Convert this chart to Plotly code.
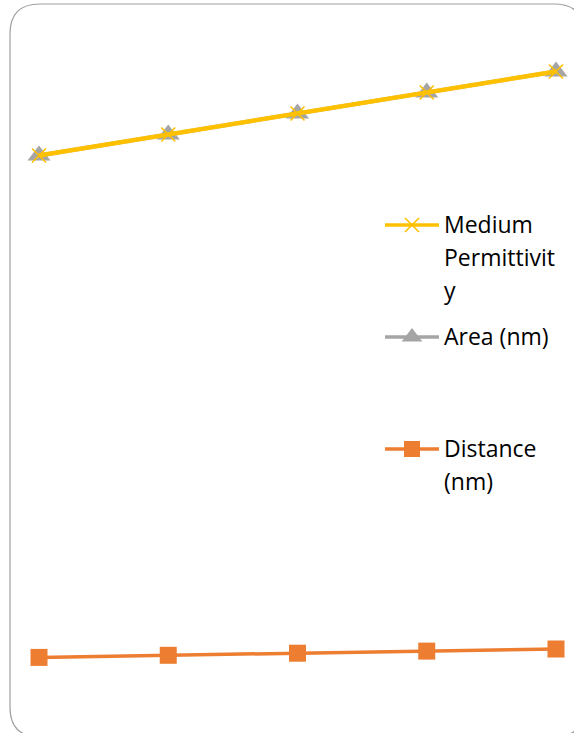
import plotly.graph_objects as go

# Series data
samples = [1, 2, 3, 4, 5]
medium_permittivity = [240, 250, 260, 270, 280]
area_nm = [240, 250, 260, 270, 280]
distance_nm = [1, 2, 3, 4, 5]

series_names = ["Medium Permittivity", "Area (nm)", "Distance (nm)"]

YELLOW = "#FFC000"
GRAY = "#A5A5A5"
ORANGE = "#ED7D31"

W, H = 574, 733

fig = go.Figure()

# Data series (drawn bottom-up so the yellow line sits on top)
fig.add_trace(go.Scatter(
    x=samples, y=distance_nm, name=series_names[2], mode="lines+markers",
    line=dict(color=ORANGE, width=3.5),
    marker=dict(symbol="square", size=17, color=ORANGE, opacity=1),
))
fig.add_trace(go.Scatter(
    x=samples, y=area_nm, name=series_names[1], mode="lines+markers",
    line=dict(color=GRAY, width=4),
    marker=dict(symbol="triangle-up", size=20, color=GRAY, opacity=1),
))
fig.add_trace(go.Scatter(
    x=samples, y=medium_permittivity, name=series_names[0], mode="lines+markers",
    line=dict(color=YELLOW, width=4.5),
    marker=dict(symbol="x-thin", size=14, line=dict(color=YELLOW, width=1.6)),
))

# Hand-placed legend on a pixel-space overlay axis
legend_items = [
    (225, YELLOW, "x-thin", 14, ["Medium", "Permittivit", "y"]),
    (337, GRAY, "triangle-up", 18, ["Area (nm)"]),
    (449, ORANGE, "square", 16, ["Distance", "(nm)"]),
]
LINE_X0, LINE_X1, TEXT_X = 385, 439, 442
LINE_STEP = 33
annotations = []
for yy, col, sym, msize, lines in legend_items:
    fig.add_trace(go.Scatter(
        x=[LINE_X0, LINE_X1], y=[yy, yy], mode="lines",
        line=dict(color=col, width=3.5),
        xaxis="x2", yaxis="y2", showlegend=False, hoverinfo="skip",
    ))
    if sym == "x-thin":
        mk = dict(symbol=sym, size=msize, line=dict(color=col, width=1.6))
    else:
        mk = dict(symbol=sym, size=msize, color=col, opacity=1)
    fig.add_trace(go.Scatter(
        x=[(LINE_X0 + LINE_X1) / 2], y=[yy], mode="markers", marker=mk,
        xaxis="x2", yaxis="y2", showlegend=False, hoverinfo="skip",
    ))
    for i, txt in enumerate(lines):
        annotations.append(dict(
            x=TEXT_X / W, y=1 - (yy - 1 + i * LINE_STEP) / H,
            xref="paper", yref="paper", xanchor="left", yanchor="middle",
            text=txt, showarrow=False,
            font=dict(family="Open Sans", size=23, color="#000000"),
        ))

# Rounded chart-area border
def px(x, y):
    return f"{x / W:.5f},{1 - y / H:.5f}"

L, T, R, B, r = 10, 4, 584, 737, 30
border = (
    f"M {px(L + r, T)} L {px(R - r, T)} Q {px(R, T)} {px(R, T + r)} "
    f"L {px(R, B - r)} Q {px(R, B)} {px(R - r, B)} "
    f"L {px(L + r, B)} Q {px(L, B)} {px(L, B - r)} "
    f"L {px(L, T + r)} Q {px(L, T)} {px(L + r, T)} Z"
)

# Axis ranges chosen so the category spacing and value scale fill the frame
x_scale = (556 - 39) / (samples[-1] - samples[0])
y_scale = 2.1
y_zero_px = 659.5

fig.update_layout(
    width=W, height=H,
    margin=dict(l=0, r=0, t=0, b=0),
    paper_bgcolor="white", plot_bgcolor="rgba(0,0,0,0)",
    showlegend=False,
    xaxis=dict(range=[samples[0] - 39 / x_scale, samples[-1] + (W - 556) / x_scale],
               visible=False, domain=[0, 1]),
    yaxis=dict(range=[(y_zero_px - H) / y_scale, y_zero_px / y_scale],
               visible=False, domain=[0, 1]),
    xaxis2=dict(range=[0, W], visible=False, overlaying="x", anchor="y2"),
    yaxis2=dict(range=[H, 0], visible=False, overlaying="y", anchor="x2"),
    shapes=[dict(type="path", path=border, xref="paper", yref="paper",
                 line=dict(color="#A0A0A0", width=1.2), layer="above")],
    annotations=annotations,
)

fig.write_html("out.html")
